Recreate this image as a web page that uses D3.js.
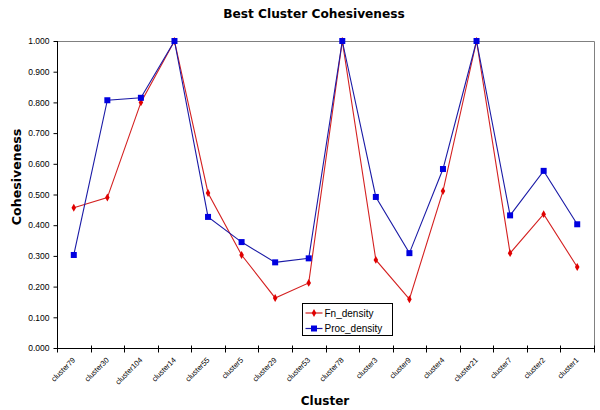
<!DOCTYPE html>
<html>
<head>
<meta charset="utf-8">
<script src="https://cdn.jsdelivr.net/npm/d3@7"></script>
<style>
  body { margin: 0; background: #fff; }
  text { font-family: Arial, "Liberation Sans", sans-serif; }
</style>
</head>
<body>
<div class="chart"></div>
<script>
/* DATA */
var clusters = ["cluster79", "cluster30", "cluster104", "cluster14", "cluster55", "cluster5", "cluster29", "cluster53",
                "cluster78", "cluster3", "cluster9", "cluster4", "cluster21", "cluster7", "cluster2", "cluster1"];
var fn_density = [0.457, 0.490, 0.800, 1.000, 0.505, 0.303, 0.163, 0.212, 1.000, 0.287, 0.159, 0.511, 1.000, 0.309, 0.436, 0.264];
var proc_density = [0.303, 0.807, 0.815, 1.000, 0.427, 0.345, 0.279, 0.292, 1.000, 0.492, 0.309, 0.583, 1.000, 0.432, 0.577, 0.403];
var y_ticks = [0, 0.1, 0.2, 0.3, 0.4, 0.5, 0.6, 0.7, 0.8, 0.9, 1.0];

var width = 600, height = 410;
var plot_left = 57, plot_right = 594, plot_top = 41, plot_bottom = 348;

var svg = d3.select(".chart").append("svg")
    .attr("width", width)
    .attr("height", height);

var x = d3.scaleBand().domain(clusters).range([plot_left, plot_right]);
var y = d3.scaleLinear().domain([0, 1]).range([plot_bottom, plot_top]);

/* plot area border (top & right grey) */
svg.append("path")
    .attr("d", "M" + plot_left + "," + (y(1) + 0.5) + "H" + (plot_right + 0.5) + "V" + plot_bottom)
    .attr("fill", "none")
    .attr("stroke", "#808080")
    .attr("stroke-width", 1);

/* y axis */
var yAxis = d3.axisLeft(y)
    .tickValues(y_ticks)
    .tickSize(4)
    .tickPadding(4)
    .tickFormat(d3.format(".3f"));

var gy = svg.append("g")
    .attr("transform", "translate(" + (plot_left + 0.5) + ",0)")
    .call(yAxis);
gy.select(".domain").attr("stroke", "#000").attr("d", "M0," + plot_top + "V" + plot_bottom);
gy.selectAll("line").attr("stroke", "#000");
gy.selectAll("text").attr("font-size", 8.5).attr("fill", "#000").style("font-family", "Arial, 'Liberation Sans', sans-serif");

/* x axis */
var xAxis = d3.axisBottom(x).tickSize(0).tickFormat("");
var gx = svg.append("g")
    .attr("transform", "translate(0," + (plot_bottom + 0.5) + ")")
    .call(xAxis);
gx.select(".domain").attr("stroke", "#000").attr("d", "M" + plot_left + ",0H" + plot_right);
gx.selectAll(".tick").remove();

// tick marks between categories
var sep = clusters.map(function(c) { return x(c); }).concat([plot_right]);
gx.selectAll("line.sep")
    .data(sep)
    .enter().append("line")
    .attr("class", "sep")
    .attr("x1", function(d) { return Math.round(d) + 0.5; })
    .attr("x2", function(d) { return Math.round(d) + 0.5; })
    .attr("y1", -3)
    .attr("y2", 4)
    .attr("stroke", "#000");

// rotated category labels
gx.selectAll("text.lab")
    .data(clusters)
    .enter().append("text")
    .attr("class", "lab")
    .attr("font-size", 7.5)
    .attr("fill", "#000")
    .attr("text-anchor", "end")
    .attr("transform", function(d) {
        return "translate(" + (x(d) + x.bandwidth() / 2 + 2) + ",12) rotate(-45)";
    })
    .text(function(d) { return d; });

/* lines */
var line = d3.line()
    .x(function(d, i) { return x(clusters[i]) + x.bandwidth() / 2; })
    .y(function(d) { return y(d); });

svg.append("path")
    .datum(fn_density)
    .attr("d", line)
    .attr("fill", "none")
    .attr("stroke", "#d42020")
    .attr("stroke-width", 1.1);

svg.append("path")
    .datum(proc_density)
    .attr("d", line)
    .attr("fill", "none")
    .attr("stroke", "#1a1aa6")
    .attr("stroke-width", 1.1);

/* markers */
var diamond = d3.symbol().type(d3.symbolDiamond).size(18);
svg.selectAll("path.fn")
    .data(fn_density)
    .enter().append("path")
    .attr("class", "fn")
    .attr("d", diamond)
    .attr("transform", function(d, i) { return "translate(" + (x(clusters[i]) + x.bandwidth() / 2) + "," + y(d) + ")"; })
    .attr("fill", "#e00000");

svg.selectAll("rect.proc")
    .data(proc_density)
    .enter().append("rect")
    .attr("class", "proc")
    .attr("x", function(d, i) { return x(clusters[i]) + x.bandwidth() / 2 - 3; })
    .attr("y", function(d) { return y(d) - 3; })
    .attr("width", 6)
    .attr("height", 6)
    .attr("fill", "#0000e0");

/* legend */
var legend = svg.append("g").attr("transform", "translate(302.5,303.5)");
legend.append("rect")
    .attr("width", 90)
    .attr("height", 32)
    .attr("fill", "#fff")
    .attr("stroke", "#000");

var leg_items = [
    {name: "Fn_density", color: "#d42020", mark: "#e00000", type: "d"},
    {name: "Proc_density", color: "#1a1aa6", mark: "#0000e0", type: "s"}
];
leg_items.forEach(function(e, i) {
    var cy = 9.5 + i * 15.5;
    legend.append("line")
        .attr("x1", 3).attr("x2", 20)
        .attr("y1", cy).attr("y2", cy)
        .attr("stroke", e.color)
        .attr("stroke-width", 1.2);
    if (e.type == "d") {
        legend.append("path")
            .attr("d", diamond)
            .attr("transform", "translate(11.5," + cy + ")")
            .attr("fill", e.mark);
    } else {
        legend.append("rect")
            .attr("x", 8.5).attr("y", cy - 3)
            .attr("width", 6).attr("height", 6)
            .attr("fill", e.mark);
    }
    legend.append("text")
        .attr("x", 22)
        .attr("y", cy + 3.5)
        .attr("font-size", 10)
        .text(e.name);
});

/* titles */
svg.append("text")
    .attr("x", 314)
    .attr("y", 18)
    .attr("text-anchor", "middle")
    .attr("font-size", 12.2)
    .attr("font-weight", "bold")
    .style("font-family", "'DejaVu Sans', Verdana, sans-serif")
    .text("Best Cluster Cohesiveness");

svg.append("text")
    .attr("x", 325)
    .attr("y", 405)
    .attr("text-anchor", "middle")
    .attr("font-size", 12)
    .attr("font-weight", "bold")
    .style("font-family", "'DejaVu Sans', Verdana, sans-serif")
    .text("Cluster");

svg.append("text")
    .attr("transform", "translate(21,177) rotate(-90)")
    .attr("text-anchor", "middle")
    .attr("font-size", 12.6)
    .attr("font-weight", "bold")
    .style("font-family", "'DejaVu Sans', Verdana, sans-serif")
    .text("Cohesiveness");
</script>
</body>
</html>
